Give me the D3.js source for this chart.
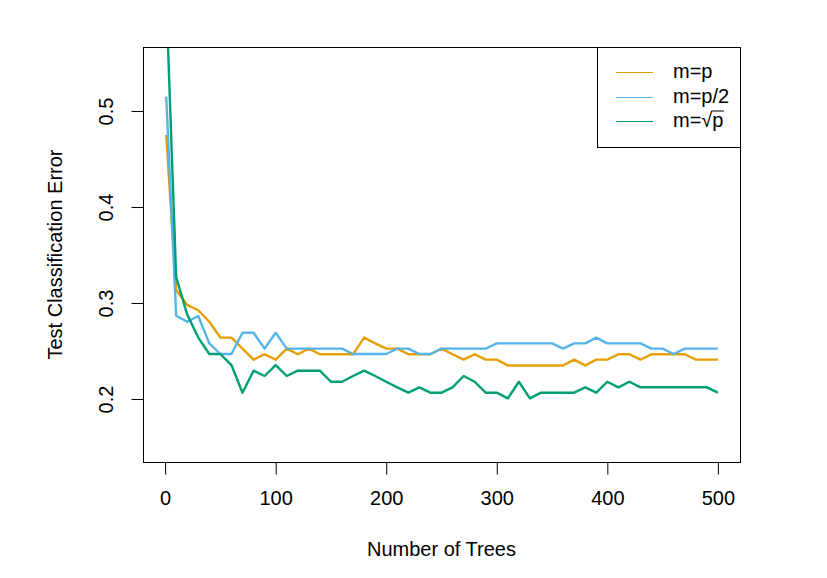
<!DOCTYPE html>
<html>
<head>
<meta charset="utf-8">
<script src="https://cdn.jsdelivr.net/npm/d3@7"></script>
<style>
    body { margin: 0; background: #fff; }
    text { font-family: "Liberation Sans", Arial, Helvetica, sans-serif; fill: #000; }
</style>
</head>
<body>
<div id="chart"></div>
<script>
// number of trees at which test error was recorded
const trees = [1, 10, 20, 30, 40, 50, 60, 70, 80, 90, 100,
    110, 120, 130, 140, 150, 160, 170, 180, 190, 200,
    210, 220, 230, 240, 250, 260, 270, 280, 290, 300,
    310, 320, 330, 340, 350, 360, 370, 380, 390, 400,
    410, 420, 430, 440, 450, 460, 470, 480, 490, 500];

const errMp = [0.475, 0.3135, 0.298, 0.2925, 0.2805, 0.264, 0.264, 0.2525, 0.241, 0.2466, 0.241,
    0.2525, 0.2466, 0.2525, 0.2466, 0.2466, 0.2466, 0.2466, 0.264, 0.258, 0.2525,
    0.2525, 0.2466, 0.2466, 0.2466, 0.2525, 0.2466, 0.241, 0.2466, 0.241, 0.241,
    0.235, 0.235, 0.235, 0.235, 0.235, 0.235, 0.241, 0.235, 0.241, 0.241,
    0.2466, 0.2466, 0.241, 0.2466, 0.2466, 0.2466, 0.2466, 0.241, 0.241, 0.241];

const errMpHalf = [0.515, 0.2868, 0.2805, 0.2865, 0.258, 0.2469, 0.2469, 0.269, 0.269, 0.2525, 0.269,
    0.2525, 0.2525, 0.2525, 0.2525, 0.2525, 0.2525, 0.2469, 0.2469, 0.2469, 0.2469,
    0.2525, 0.2525, 0.2469, 0.2469, 0.2525, 0.2525, 0.2525, 0.2525, 0.2525, 0.258,
    0.258, 0.258, 0.258, 0.258, 0.258, 0.2525, 0.258, 0.258, 0.264, 0.258,
    0.258, 0.258, 0.258, 0.2525, 0.2525, 0.2469, 0.2525, 0.2525, 0.2525, 0.2525];

const errMsqrt = [0.62, 0.327, 0.288, 0.264, 0.2469, 0.2469, 0.2354, 0.2066, 0.2295, 0.224, 0.2354,
    0.224, 0.2295, 0.2295, 0.2295, 0.218, 0.218, 0.224, 0.2295, 0.224, 0.218,
    0.2122, 0.2066, 0.2122, 0.2066, 0.2066, 0.2122, 0.224, 0.218, 0.2066, 0.2066,
    0.2007, 0.218, 0.2007, 0.2066, 0.2066, 0.2066, 0.2066, 0.2122, 0.2066, 0.218,
    0.2122, 0.218, 0.2122, 0.2122, 0.2122, 0.2122, 0.2122, 0.2122, 0.2122, 0.2066];

const seriesLabels = ["m=p", "m=p/2", "m=\u221Ap"];
const seriesColors = ["#E69F00", "#56B4E9", "#009E73"];

const xTicks = [0, 100, 200, 300, 400, 500];
const yTicks = [0.2, 0.3, 0.4, 0.5];

const labels = {
    x: "Number of Trees",
    y: "Test Classification Error"
};

const size = { width: 827, height: 578 };
const plotBox = { left: 143, right: 740, top: 47, bottom: 462 };
const fontSize = 20;

function init() {
    const svg = d3.select("#chart").append("svg")
        .attr("width", size.width)
        .attr("height", size.height);

    const x = d3.scaleLinear()
        .domain([-20, 520])
        .range([plotBox.left, plotBox.right]);

    const y = d3.scaleLinear()
        .domain([0.1344, 0.5667])
        .range([plotBox.bottom, plotBox.top]);

    drawLines(svg, x, y);
    drawAxes(svg, x, y);
    drawLegend(svg);
}

function drawLines(svg, x, y) {
    svg.append("clipPath")
        .attr("id", "plot-clip")
        .append("rect")
        .attr("x", plotBox.left)
        .attr("y", plotBox.top)
        .attr("width", plotBox.right - plotBox.left)
        .attr("height", plotBox.bottom - plotBox.top);

    const series = [errMp, errMpHalf, errMsqrt];
    const line = d3.line()
        .x((d, i) => x(trees[i]))
        .y(d => y(d));

    const group = svg.append("g").attr("clip-path", "url(#plot-clip)");

    series.forEach((values, index) => {
        group.append("path")
            .datum(values)
            .attr("d", line)
            .attr("fill", "none")
            .attr("stroke", seriesColors[index])
            .attr("stroke-width", 2.4)
            .attr("stroke-linejoin", "round");
    });
}

function drawAxes(svg, x, y) {
    // box round the plot region
    svg.append("rect")
        .attr("x", plotBox.left + 0.5)
        .attr("y", plotBox.top + 0.5)
        .attr("width", plotBox.right - plotBox.left)
        .attr("height", plotBox.bottom - plotBox.top)
        .attr("fill", "none")
        .attr("stroke", "#000")
        .attr("stroke-width", 1);

    const bottomAxis = d3.axisBottom(x)
        .tickValues(xTicks)
        .tickFormat(d3.format("d"))
        .tickSize(12)
        .tickSizeOuter(0);

    const xAxis = svg.append("g")
        .attr("transform", `translate(0, ${plotBox.bottom + 0.5})`)
        .call(bottomAxis);

    xAxis.select(".domain").remove();
    xAxis.selectAll("line").attr("stroke", "#000");
    xAxis.selectAll("text")
        .attr("y", 42)
        .attr("dy", null)
        .style("font-size", fontSize + "px")
        .style("font-family", "'Liberation Sans', Arial, sans-serif");

    const leftAxis = d3.axisLeft(y)
        .tickValues(yTicks)
        .tickFormat(d3.format(".1f"))
        .tickSize(12)
        .tickSizeOuter(0);

    const yAxis = svg.append("g")
        .attr("transform", `translate(${plotBox.left + 0.5}, 0)`)
        .call(leftAxis);

    yAxis.select(".domain").remove();
    yAxis.selectAll("line").attr("stroke", "#000");
    yAxis.selectAll("text")
        .attr("x", null)
        .attr("dy", null)
        .attr("y", null)
        .attr("text-anchor", "middle")
        .attr("transform", "translate(-31, 0) rotate(-90)")
        .style("font-size", fontSize + "px")
        .style("font-family", "'Liberation Sans', Arial, sans-serif");

    svg.append("text")
        .attr("x", (plotBox.left + plotBox.right) / 2)
        .attr("y", 556)
        .attr("text-anchor", "middle")
        .style("font-size", fontSize + "px")
        .text(labels.x);

    svg.append("text")
        .attr("transform", `translate(62, ${(plotBox.top + plotBox.bottom) / 2}) rotate(-90)`)
        .attr("text-anchor", "middle")
        .style("font-size", fontSize + "px")
        .text(labels.y);
}

function drawLegend(svg) {
    const box = { left: 597, right: 740, top: 47, bottom: 147 };
    const rowY = [72.5, 97.5, 121.5];

    svg.append("rect")
        .attr("x", box.left + 0.5)
        .attr("y", box.top + 0.5)
        .attr("width", box.right - box.left)
        .attr("height", box.bottom - box.top)
        .attr("fill", "#fff")
        .attr("stroke", "#000")
        .attr("stroke-width", 1);

    seriesLabels.forEach((label, index) => {
        svg.append("line")
            .attr("x1", 616)
            .attr("x2", 653)
            .attr("y1", rowY[index])
            .attr("y2", rowY[index])
            .attr("stroke", seriesColors[index])
            .attr("stroke-width", 1);

        const text = svg.append("text")
            .attr("x", 673)
            .attr("y", rowY[index] + 5)
            .style("font-size", fontSize + "px")
            .text(label);

        // overline above p under the radical sign
        const sqrtPos = label.indexOf("\u221A");
        if (sqrtPos >= 0) {
            const node = text.node();
            const start = node.getSubStringLength(0, sqrtPos + 1);
            const pWidth = node.getSubStringLength(sqrtPos + 1, 1);
            svg.append("line")
                .attr("x1", 673 + start - 1)
                .attr("x2", 673 + start + pWidth + 0.5)
                .attr("y1", rowY[index] - 10.5)
                .attr("y2", rowY[index] - 10.5)
                .attr("stroke", "#000")
                .attr("stroke-width", 1);
        }
    });
}

init();
</script>
</body>
</html>
